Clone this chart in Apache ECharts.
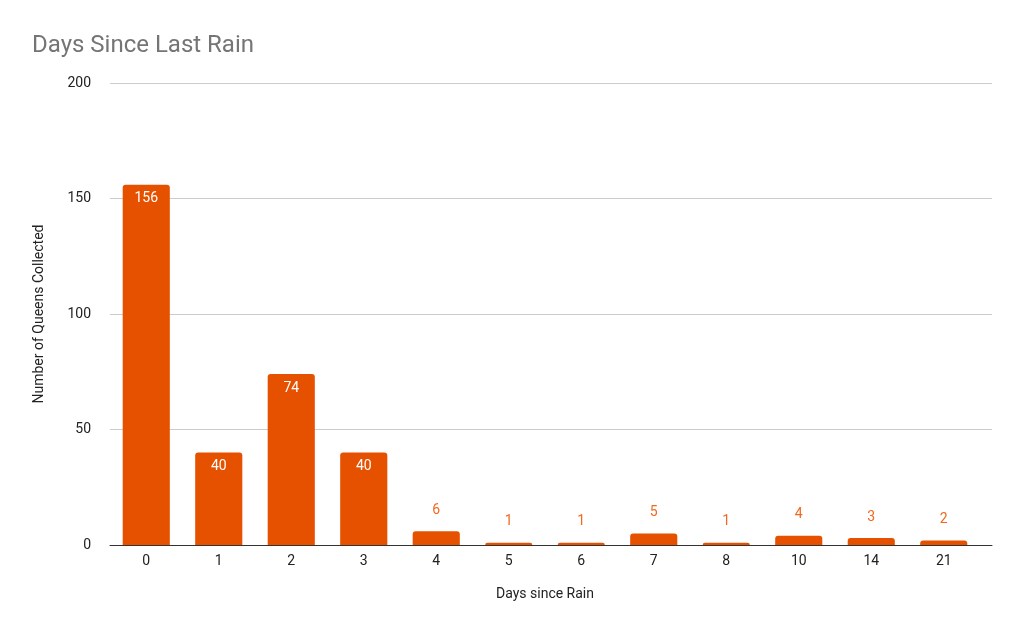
<!DOCTYPE html>
<html>
<head>
<meta charset="utf-8">
<script src="https://cdn.jsdelivr.net/npm/echarts@6/dist/echarts.min.js"></script>
<style>
  html, body { margin: 0; padding: 0; background: #fff; }
  #chart { width: 1024px; height: 633px; }
</style>
</head>
<body>
<div id="chart"></div>
<script>
// days since last rain (categories) and queens collected
var days = ['0', '1', '2', '3', '4', '5', '6', '7', '8', '10', '14', '21'];
var queens = [156, 40, 74, 40, 6, 1, 1, 5, 1, 4, 3, 2];
var yTicks = [0, 50, 100, 150, 200];

var barColor = '#e65100';
var font = 'Roboto, Arial, sans-serif';

// tall bars get the label inside in white, short ones above in orange
var barData = queens.map(function (v) {
  if (v > 20) {
    return { value: v, label: { position: 'insideTop', distance: 7, color: '#fff' } };
  }
  return { value: v, label: { position: 'top', distance: 14, color: '#f0691e' } };
});

var chart = echarts.init(document.getElementById('chart'));
var option = {
  backgroundColor: '#fff',
  textStyle: { fontFamily: font },
  title: {
    text: 'Days Since Last Rain',
    left: 27,
    top: 29,
    textStyle: { color: '#757575', fontSize: 24, fontWeight: 'normal', fontFamily: font }
  },
  // grid 0: the bars; grid 1: gridlines + baseline spanning a bit wider
  grid: [
    { left: 110, right: 44, top: 83, bottom: 88, containLabel: false },
    { left: 110, right: 32, top: 83, bottom: 88, containLabel: false }
  ],
  xAxis: [{
    type: 'category',
    gridIndex: 0,
    data: days,
    name: 'Days since Rain',
    nameLocation: 'middle',
    nameGap: 42,
    nameTextStyle: { color: '#222', fontSize: 14 },
    axisLine: { show: false },
    axisTick: { show: false },
    axisLabel: { color: '#222', fontSize: 14, margin: 9 }
  }, {
    type: 'value',
    gridIndex: 1,
    min: 0,
    max: 1,
    axisLine: { show: true, onZero: false, lineStyle: { color: '#333', width: 1 } },
    axisTick: { show: false },
    axisLabel: { show: false },
    splitLine: { show: false }
  }],
  yAxis: [{
    type: 'value',
    gridIndex: 0,
    min: yTicks[0],
    max: yTicks[yTicks.length - 1],
    interval: 50,
    name: 'Number of Queens Collected',
    nameLocation: 'middle',
    nameGap: 64,
    nameTextStyle: { color: '#222', fontSize: 14 },
    axisLine: { show: false },
    axisTick: { show: false },
    axisLabel: { color: '#222', fontSize: 14, margin: 19 },
    splitLine: { show: false }
  }, {
    type: 'value',
    gridIndex: 1,
    min: yTicks[0],
    max: yTicks[yTicks.length - 1],
    interval: 50,
    axisLine: { show: false },
    axisTick: { show: false },
    axisLabel: { show: false },
    splitLine: { lineStyle: { color: '#cccccc' } },
    z: 0
  }],
  series: [{
    type: 'bar',
    xAxisIndex: 0,
    yAxisIndex: 0,
    data: barData,
    barWidth: '65%',
    itemStyle: { color: barColor, borderRadius: [3, 3, 0, 0] },
    label: { show: true, fontSize: 14 },
    z: 2,
    animation: false
  }]
};
chart.setOption(option);
</script>
</body>
</html>
